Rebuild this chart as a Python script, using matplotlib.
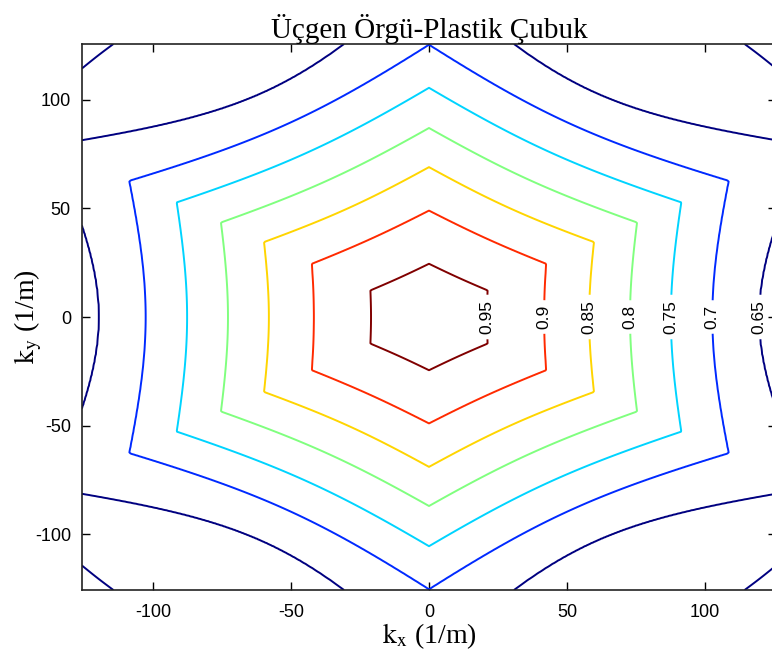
# Ucgen orgu - plastik cubuk : contour map over the first Brillouin zone
import numpy as np
import matplotlib
matplotlib.use('Agg')
import matplotlib.pyplot as plt

# lattice constant (m) -> plot range is +-pi/a
a_lat = 0.025

# contour levels shown on the chart
levels = [0.95, 0.9, 0.85, 0.8, 0.75, 0.7, 0.65]
# where each level crosses the +kx axis (flat side of the hexagon), 1/m
r_flat = [21.0, 41.7, 58.0, 72.8, 87.6, 102.6, 119.5]
# where each level crosses the ky axis (corner of the hexagon), 1/m
r_vertex = [24.5, 49.0, 69.0, 87.0, 105.5, 125.3, 158.0]

# value at the zone centre and just below the last drawn level (not drawn)
center_value = 1.0
outer_value, outer_flat, outer_vertex = 0.6, 165.0, 190.0

tick_vals = [-100, -50, 0, 50, 100]
title_txt = 'Üçgen Örgü-Plastik Çubuk'

plt.rcParams['mathtext.fontset'] = 'stix'
plt.rcParams['axes.unicode_minus'] = False


def matlab_jet(x):
    # MATLAB style jet colormap
    r = np.clip(min(4 * x - 1.5, -4 * x + 4.5), 0, 1)
    g = np.clip(min(4 * x - 0.5, -4 * x + 3.5), 0, 1)
    b = np.clip(min(4 * x + 0.5, -4 * x + 2.5), 0, 1)
    return (r, g, b)


# %%
# build the field on a grid, folded back into the first zone
kmax = np.pi / a_lat
bmag = 4 * np.pi / (np.sqrt(3) * a_lat)
k = np.linspace(-kmax, kmax, 501)
KX, KY = np.meshgrid(k, k)

b1 = np.array([bmag, 0.0])
b2 = np.array([bmag * 0.5, bmag * np.sqrt(3) / 2])
best = np.full(KX.shape, np.inf)
QX = KX.copy()
QY = KY.copy()
for m in range(-2, 3):
    for n in range(-2, 3):
        gx, gy = m * b1 + n * b2
        d = (KX - gx) ** 2 + (KY - gy) ** 2
        sel = d < best
        best[sel] = d[sel]
        QX[sel] = KX[sel] - gx
        QY[sel] = KY[sel] - gy

r = np.hypot(QX, QY)
ang = np.arctan2(QY, QX)
th = np.abs(np.mod(ang + np.pi / 6, np.pi / 3) - np.pi / 6)

vals = [center_value] + levels + [outer_value]
rf = [0.0] + r_flat + [outer_flat]
rv = [0.0] + r_vertex + [outer_vertex]
radii = []
for f, v in zip(rf, rv):
    if f == 0:
        radii.append(np.zeros_like(th))
    else:
        p = np.log(v / f) / np.log(1 / np.cos(np.pi / 6))
        radii.append(f / np.cos(th) ** p)

Z = np.full(r.shape, outer_value)
for i in range(len(vals) - 1):
    lo, hi = radii[i], radii[i + 1]
    sel = (r >= lo) & (r < hi)
    t = (r[sel] - lo[sel]) / (hi[sel] - lo[sel])
    Z[sel] = vals[i] + t * (vals[i + 1] - vals[i])

# %%
fig = plt.figure(figsize=(7.72, 6.62), dpi=100)
ax = fig.add_axes([82 / 772, 72 / 662, 694 / 772, 546 / 662])

lev_sorted = sorted(levels)
lo_l, hi_l = min(levels), max(levels)
line_cols = [matlab_jet((v - lo_l) / (hi_l - lo_l)) for v in lev_sorted]
cs = ax.contour(KX, KY, Z, levels=lev_sorted, colors=line_cols, linewidths=1.4)

spots = [(x, 0.0) for x in sorted(r_flat)]
lbls = ax.clabel(cs, levels=lev_sorted, inline=True, fontsize=12.5, colors='k',
                 fmt=lambda v: f'{v:g}', manual=spots, inline_spacing=3)
for t in lbls:
    t.set_rotation(90)
    t.set_fontfamily('Liberation Sans')

ax.set_xlim(-kmax, kmax)
ax.set_ylim(-kmax, kmax)
ax.set_xticks(tick_vals)
ax.set_yticks(tick_vals)
ax.tick_params(direction='in', top=True, right=True, length=6, width=1,
               labelsize=13)
ax.tick_params(axis='x', pad=10)
ax.tick_params(axis='y', pad=8)
for lab in ax.get_xticklabels() + ax.get_yticklabels():
    lab.set_fontfamily('Liberation Sans')
for s in ax.spines.values():
    s.set_linewidth(1.2)
    s.set_color('#222222')

ax.set_title(title_txt, fontfamily='Liberation Serif', fontsize=21, pad=4)
ax.set_xlabel(r'$\mathrm{k_x}$ (1/m)', fontfamily='Liberation Serif', fontsize=20, labelpad=0)
ax.set_ylabel(r'$\mathrm{k_y}$ (1/m)', fontfamily='Liberation Serif', fontsize=20)
ax.yaxis.set_label_coords(-0.055, 0.5)

fig.savefig('out.png', dpi=100)
